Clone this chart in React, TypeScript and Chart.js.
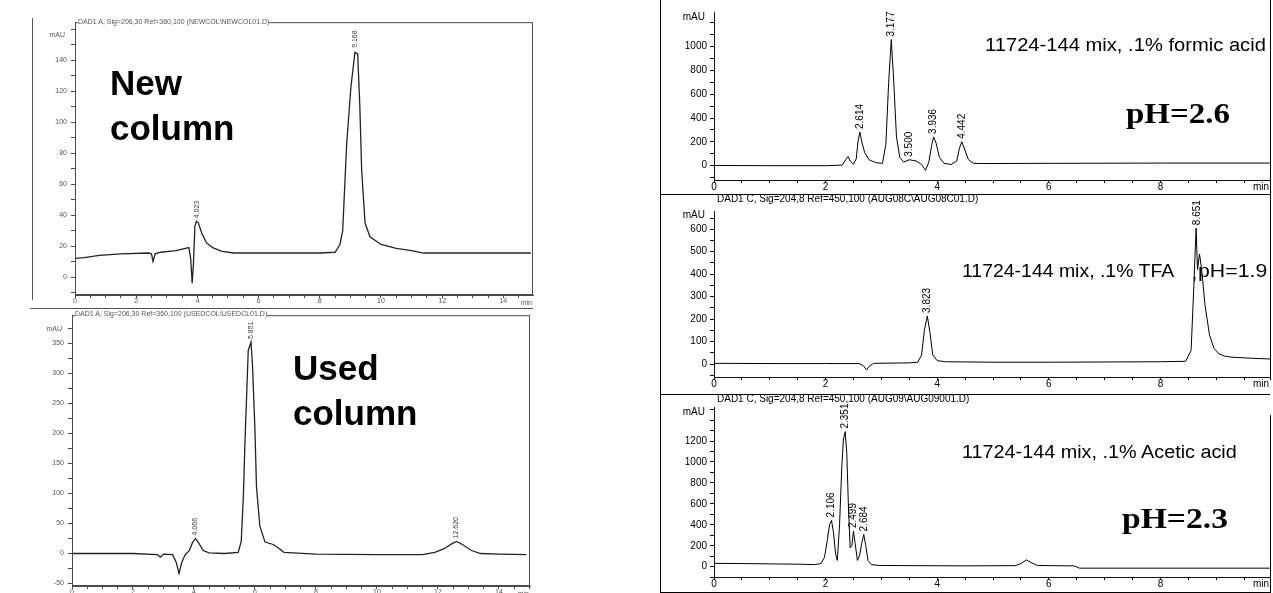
import React, { useEffect, useRef } from "react";
import { Chart, registerables } from "chart.js";

Chart.register(...registerables);

// ================= DATA =================
// New column (top-left), time in min, signal in mAU
const newColTime = [0, 0.3, 0.8, 1.5, 2.4, 2.5, 2.55, 2.62, 2.8, 3.3, 3.72, 3.78, 3.83, 3.87, 3.92, 3.97, 4.03, 4.15, 4.3, 4.5, 4.8, 5.2, 6, 8, 8.5, 8.66, 8.75, 8.88, 9.02, 9.15, 9.24, 9.31, 9.37, 9.48, 9.64, 10.0, 10.5, 11, 11.4, 12, 14.9];
const newColSignal = [12, 12.5, 14, 15, 15.5, 15, 10, 15, 16, 17, 19, 12, -4, 8, 33, 36, 35, 28, 22, 19, 16.5, 15.5, 15.5, 15.5, 16, 21, 30, 86, 123, 145, 144, 110, 69, 35, 26, 21, 18.5, 17, 15.5, 15.5, 15.5];
const newColPeakTime = [4.0, 9.17];
const newColPeakHeight = [36, 146];
const newColPeakLabel = ["4.023", "9.168"];

// Used column (bottom-left)
const usedColTime = [0, 1, 2, 2.8, 2.9, 3.0, 3.3, 3.42, 3.51, 3.6, 3.7, 3.85, 3.95, 4.05, 4.15, 4.3, 4.5, 5.0, 5.45, 5.55, 5.62, 5.67, 5.78, 5.87, 5.92, 6.0, 6.05, 6.16, 6.33, 6.6, 6.75, 6.95, 8, 10, 11.5, 11.9, 12.2, 12.45, 12.61, 12.8, 13.1, 13.4, 14, 14.9];
const usedColSignal = [0, 0, 0, -2, -6, -1, -2, -15, -33, -15, -3, 5, 18, 25, 18, 5, 1, 0, 2, 20, 95, 182, 338, 352, 313, 205, 111, 46, 19, 15, 10, 2, -1, -2, -2, 2, 8, 16, 20, 15, 5, 0, -1, -2];
const usedColPeakTime = [4.05, 5.87, 12.61];
const usedColPeakHeight = [25, 352, 20];
const usedColPeakLabel = ["4.066", "5.851", "12.620"];

// 0.1% formic acid (top-right)
const formicTime = [0, 1.0, 2.0, 2.3, 2.36, 2.4, 2.44, 2.5, 2.55, 2.58, 2.614, 2.65, 2.7, 2.78, 2.9, 3.02, 3.08, 3.13, 3.177, 3.22, 3.27, 3.33, 3.4, 3.5, 3.62, 3.72, 3.79, 3.85, 3.9, 3.936, 3.98, 4.04, 4.12, 4.25, 4.35, 4.4, 4.442, 4.49, 4.56, 4.65, 4.8, 6.0, 8.0, 10.0];
const formicSignal = [2, 0, 0, 5, 50, 77, 40, 12, 60, 200, 283, 200, 110, 50, 25, 20, 180, 700, 1060, 720, 240, 70, 30, 50, 40, 10, -40, 30, 170, 242, 190, 70, 20, 10, 40, 150, 201, 140, 50, 20, 18, 20, 22, 22];
const formicPeakTime = [2.614, 3.177, 3.5, 3.936, 4.442];
const formicPeakHeight = [283, 1060, 50, 242, 201];
const formicPeakLabel = ["2.614", "3.177", "3.500", "3.936", "4.442"];

// 0.1% TFA (middle-right)
const tfaTime = [0, 1.0, 2.0, 2.6, 2.68, 2.735, 2.79, 2.86, 3.5, 3.65, 3.72, 3.77, 3.823, 3.87, 3.92, 4.0, 4.15, 5.0, 6.0, 7.0, 8.0, 8.45, 8.55, 8.6, 8.64, 8.665, 8.7, 8.74, 8.8, 8.88, 8.96, 9.05, 9.15, 9.3, 9.6, 10.0];
const tfaSignal = [3, 2, 2, 2, -8, -27, -8, 3, 5, 8, 40, 150, 214, 140, 40, 15, 10, 8, 8, 9, 10, 12, 60, 350, 605, 420, 490, 420, 260, 130, 70, 45, 35, 30, 26, 22];
const tfaPeakTime = [3.823, 8.66];
const tfaPeakHeight = [214, 605];
const tfaPeakLabel = ["3.823", "8.651"];

// 0.1% acetic acid (bottom-right)
const aceticTime = [0, 0.5, 1.0, 1.5, 1.8, 1.92, 1.98, 2.03, 2.07, 2.106, 2.14, 2.18, 2.21, 2.25, 2.29, 2.32, 2.351, 2.38, 2.41, 2.44, 2.47, 2.499, 2.53, 2.57, 2.61, 2.65, 2.684, 2.72, 2.76, 2.82, 2.95, 3.5, 4.5, 5.4, 5.5, 5.6, 5.7, 5.8, 6.0, 6.45, 6.55, 7.5, 8.5, 10.0];
const aceticSignal = [32, 30, 27, 24, 20, 30, 90, 250, 400, 442, 330, 120, 60, 400, 950, 1220, 1290, 1080, 560, 180, 200, 340, 220, 60, 110, 230, 308, 200, 60, 20, 12, 10, 8, 10, 30, 65, 35, 12, 10, 8, -14, -14, -14, -14];
const aceticPeakTime = [2.106, 2.351, 2.499, 2.684];
const aceticPeakHeight = [442, 1290, 340, 308];
const aceticPeakLabel = ["2.106", "2.351", "2.499", "2.684"];

// Tick labels
const leftXTickLabels = [0, 2, 4, 6, 8, 10, 12, 14];
const newColYTickLabels = [0, 20, 40, 60, 80, 100, 120, 140];
const usedColYTickLabels = [-50, 0, 50, 100, 150, 200, 250, 300, 350];
const rightXTickLabels = [0, 2, 4, 6, 8];
const formicYTickLabels = [0, 200, 400, 600, 800, 1000];
const tfaYTickLabels = [0, 100, 200, 300, 400, 500, 600];
const aceticYTickLabels = [0, 200, 400, 600, 800, 1000, 1200];

// ================= LAYOUT / STYLE =================
const SANS = '"Liberation Sans", Arial, Helvetica, sans-serif';
const SERIF = '"Liberation Serif", "Times New Roman", serif';

type Panel = {
  id: string;
  scan: boolean;
  area: { l: number; t: number; r: number; b: number };
  yw: number; xh: number; pt: number; pr: number;
  xr: [number, number]; yr: [number, number];
  xStep: number; xLabels: number[];
  yStart: number; yStep: number; yLabels: number[];
  time: number[]; signal: number[];
  peakTime: number[]; peakHeight: number[]; peakLabel: string[];
  unitDy: number; unitDx: number; frame: boolean;
};

const panels: Panel[] = [
  {
    id: "new", scan: true, area: { l: 75, t: 22, r: 533, b: 295 }, yw: 45, xh: 14, pt: 8, pr: 2,
    xr: [0, 14.97], yr: [-11.6, 164.5], xStep: 0.5, xLabels: leftXTickLabels,
    yStart: -10, yStep: 10, yLabels: newColYTickLabels,
    time: newColTime, signal: newColSignal,
    peakTime: newColPeakTime, peakHeight: newColPeakHeight, peakLabel: newColPeakLabel,
    unitDy: 13, unitDx: 10, frame: true,
  },
  {
    id: "used", scan: true, area: { l: 72, t: 311, r: 530, b: 586 }, yw: 45, xh: 14, pt: 4, pr: 2,
    xr: [0, 15.02], yr: [-54.1, 396.7], xStep: 0.5, xLabels: leftXTickLabels,
    yStart: -50, yStep: 25, yLabels: usedColYTickLabels,
    time: usedColTime, signal: usedColSignal,
    peakTime: usedColPeakTime, peakHeight: usedColPeakHeight, peakLabel: usedColPeakLabel,
    unitDy: 14, unitDx: 10, frame: true,
  },
  {
    id: "formic", scan: false, area: { l: 714, t: 12, r: 1270, b: 180 }, yw: 56, xh: 14, pt: 12, pr: 3,
    xr: [0, 9.964], yr: [-120.2, 1291.6], xStep: 0.5, xLabels: rightXTickLabels,
    yStart: -100, yStep: 100, yLabels: formicYTickLabels,
    time: formicTime, signal: formicSignal,
    peakTime: formicPeakTime, peakHeight: formicPeakHeight, peakLabel: formicPeakLabel,
    unitDy: 5, unitDx: 9, frame: false,
  },
  {
    id: "tfa", scan: false, area: { l: 714, t: 211, r: 1270, b: 377 }, yw: 56, xh: 14, pt: 14, pr: 3,
    xr: [0, 9.964], yr: [-57.9, 681.5], xStep: 0.5, xLabels: rightXTickLabels,
    yStart: -50, yStep: 50, yLabels: tfaYTickLabels,
    time: tfaTime, signal: tfaSignal,
    peakTime: tfaPeakTime, peakHeight: tfaPeakHeight, peakLabel: tfaPeakLabel,
    unitDy: 4, unitDx: 9, frame: false,
  },
  {
    id: "acetic", scan: false, area: { l: 714, t: 407, r: 1270, b: 577 }, yw: 56, xh: 14, pt: 14, pr: 3,
    xr: [0, 9.964], yr: [-98.3, 1524.6], xStep: 0.5, xLabels: rightXTickLabels,
    yStart: -100, yStep: 100, yLabels: aceticYTickLabels,
    time: aceticTime, signal: aceticSignal,
    peakTime: aceticPeakTime, peakHeight: aceticPeakHeight, peakLabel: aceticPeakLabel,
    unitDy: 5, unitDx: 9, frame: false,
  },
];

function tickValues(start: number, end: number, step: number): number[] {
  const out: number[] = [];
  for (let v = start; v <= end + 1e-9; v += step) out.push(Math.round(v * 1000) / 1000);
  return out;
}
const hasLabel = (arr: number[], v: number) => arr.some((a) => Math.abs(a - v) < 1e-6);

function ChromCanvas({ p }: { p: Panel }) {
  const ref = useRef<HTMLCanvasElement>(null);
  const w = p.area.r - p.area.l + p.yw + p.pr;
  const h = p.area.b - p.area.t + p.pt + p.xh;

  useEffect(() => {
    const canvas = ref.current;
    if (!canvas) return;
    const scan = p.scan;
    const axisColor = scan ? "#4a4a4a" : "#111";
    const textColor = scan ? "#555" : "#000";
    const fontSize = scan ? 7 : 10;
    const xTicks = tickValues(p.xr[0], p.xr[1], p.xStep);
    const yTicks = tickValues(p.yStart, p.yr[1], p.yStep);

    const overlay = {
      id: "overlay-" + p.id,
      afterDraw(chart: any) {
        const { ctx, chartArea: a, scales } = chart;
        ctx.save();
        if (p.frame) {
          ctx.strokeStyle = axisColor;
          ctx.lineWidth = 1;
          ctx.strokeRect(a.left + 0.5, a.top + 0.5, a.right - a.left - 1, a.bottom - a.top - 1);
        }
        ctx.fillStyle = scan ? "#3a3a3a" : "#000";
        ctx.font = `${fontSize}px ${SANS}`;
        p.peakTime.forEach((t, i) => {
          const x = scales.x.getPixelForValue(t);
          const y = scales.y.getPixelForValue(p.peakHeight[i]) - 3;
          ctx.save();
          ctx.translate(x, y);
          ctx.rotate(-Math.PI / 2);
          ctx.textAlign = "left";
          ctx.textBaseline = "middle";
          ctx.fillText(p.peakLabel[i], 0, 0);
          ctx.restore();
        });
        ctx.fillStyle = textColor;
        ctx.textAlign = "right";
        ctx.textBaseline = "middle";
        ctx.fillText("mAU", a.left - p.unitDx, a.top + p.unitDy);
        ctx.fillText("min", a.right - 1, a.bottom + (scan ? 8 : 7));
        ctx.restore();
      },
    };

    const chart = new Chart(canvas, {
      type: "line",
      data: {
        datasets: [
          {
            data: p.time.map((t, i) => ({ x: t, y: p.signal[i] })),
            borderColor: scan ? "#232323" : "#000",
            borderWidth: scan ? 1.3 : 1,
            pointRadius: 0,
            tension: 0,
            fill: false,
          },
        ],
      },
      options: {
        responsive: false,
        animation: false,
        devicePixelRatio: 1,
        events: [],
        layout: { autoPadding: false, padding: { left: 0, top: p.pt, right: p.pr, bottom: 0 } },
        plugins: { legend: { display: false }, tooltip: { enabled: false } },
        scales: {
          x: {
            type: "linear",
            min: p.xr[0],
            max: p.xr[1],
            afterBuildTicks: (s: any) => {
              s.ticks = xTicks.map((v) => ({ value: v }));
            },
            afterFit: (s: any) => {
              s.height = p.xh;
            },
            ticks: {
              autoSkip: false,
              maxRotation: 0,
              padding: scan ? -1 : -2,
              color: textColor,
              font: { family: SANS, size: fontSize },
              callback: (v: any) => (hasLabel(p.xLabels, Number(v)) ? String(Number(v)) : ""),
            },
            grid: { drawOnChartArea: false, drawTicks: true, tickLength: 3, color: axisColor },
            border: { display: true, color: axisColor, width: 1 },
          },
          y: {
            type: "linear",
            min: p.yr[0],
            max: p.yr[1],
            afterBuildTicks: (s: any) => {
              s.ticks = yTicks.map((v) => ({ value: v }));
            },
            afterFit: (s: any) => {
              s.width = p.yw;
            },
            ticks: {
              autoSkip: false,
              padding: scan ? 4 : 3,
              color: textColor,
              font: { family: SANS, size: fontSize },
              callback: (v: any) => (hasLabel(p.yLabels, Number(v)) ? String(Number(v)) : ""),
            },
            grid: { drawOnChartArea: false, drawTicks: true, tickLength: 4, color: axisColor },
            border: { display: true, color: axisColor, width: 1 },
          },
        },
      },
      plugins: [overlay],
    } as any);
    return () => chart.destroy();
  }, [p]);

  return (
    <canvas
      ref={ref}
      width={w}
      height={h}
      style={{ position: "absolute", left: p.area.l - p.yw, top: p.area.t - p.pt, width: w, height: h }}
    />
  );
}

type TextSpec = {
  text: string; left: number; baseline: number; size: number;
  serif?: boolean; bold?: boolean; sx?: number; color?: string; bg?: boolean;
};

const texts: TextSpec[] = [
  { text: "New", left: 110, baseline: 95, size: 35, bold: true },
  { text: "column", left: 110, baseline: 140, size: 35, bold: true },
  { text: "Used", left: 293, baseline: 380, size: 35, bold: true },
  { text: "column", left: 293, baseline: 425, size: 35, bold: true },
  { text: "11724-144 mix, .1% formic acid", left: 985, baseline: 51, size: 18, sx: 1.12 },
  { text: "pH=2.6", left: 1126, baseline: 123, size: 30, serif: true, bold: true, sx: 1.1 },
  { text: "11724-144 mix, .1% TFA", left: 962, baseline: 277, size: 18, sx: 1.08 },
  { text: ",", left: 1192, baseline: 279, size: 18 },
  { text: "pH=1.9", left: 1198, baseline: 277, size: 19, sx: 1.12 },
  { text: "11724-144 mix, .1% Acetic acid", left: 962, baseline: 458, size: 18, sx: 1.1 },
  { text: "pH=2.3", left: 1122, baseline: 528, size: 30, serif: true, bold: true, sx: 1.12 },
  { text: "DAD1 A, Sig=206,30 Ref=360,100 (NEWCOL\\NEWCOL01.D)", left: 78, baseline: 24, size: 7, color: "#555", bg: true },
  { text: "DAD1 A, Sig=206,30 Ref=360,100 (USEDCOL\\USEDCL01.D)", left: 75, baseline: 316, size: 7, color: "#555", bg: true },
  { text: "DAD1 C, Sig=204,8 Ref=450,100 (AUG08C\\AUG08C01.D)", left: 717, baseline: 202, size: 10 },
  { text: "DAD1 C, Sig=204,8 Ref=450,100 (AUG09\\AUG09001.D)", left: 717, baseline: 402, size: 10 },
];

// frame lines: [x1, y1, x2, y2, color]
const lines: [number, number, number, number, string][] = [
  [32, 18, 32, 300, "#555"],
  [30, 308, 533, 308, "#555"],
  [660, 0, 660, 593, "#000"],
  [660, 194, 1270, 194, "#000"],
  [660, 394, 1270, 394, "#000"],
  [660, 592, 1270, 592, "#000"],
  [1270, 0, 1270, 380, "#000"],
  [1270, 415, 1270, 593, "#000"],
];

function Txt({ s }: { s: TextSpec }) {
  const ratio = s.serif ? 0.8375 : 0.8465;
  return (
    <div
      style={{
        position: "absolute",
        left: s.left,
        top: s.baseline - ratio * s.size,
        fontFamily: s.serif ? SERIF : SANS,
        fontWeight: s.bold ? 700 : 400,
        fontSize: s.size,
        lineHeight: `${s.size}px`,
        whiteSpace: "nowrap",
        color: s.color || "#000",
        background: s.bg ? "#fff" : "transparent",
        transform: `scaleX(${s.sx || 1})`,
        transformOrigin: "left center",
      }}
    >
      {s.text}
    </div>
  );
}

export default function App() {
  return (
    <div
      style={{
        position: "fixed",
        left: 0,
        top: 0,
        width: 1273,
        height: 593,
        background: "#fff",
        overflow: "hidden",
      }}
    >
      {lines.map(([x1, y1, x2, y2, c], i) => (
        <div
          key={"l" + i}
          style={{
            position: "absolute",
            left: Math.min(x1, x2),
            top: Math.min(y1, y2),
            width: Math.max(1, Math.abs(x2 - x1)),
            height: Math.max(1, Math.abs(y2 - y1)),
            background: c,
          }}
        />
      ))}
      {panels.map((p) => (
        <ChromCanvas key={p.id} p={p} />
      ))}
      {texts.map((s, i) => (
        <Txt key={"t" + i} s={s} />
      ))}
    </div>
  );
}
